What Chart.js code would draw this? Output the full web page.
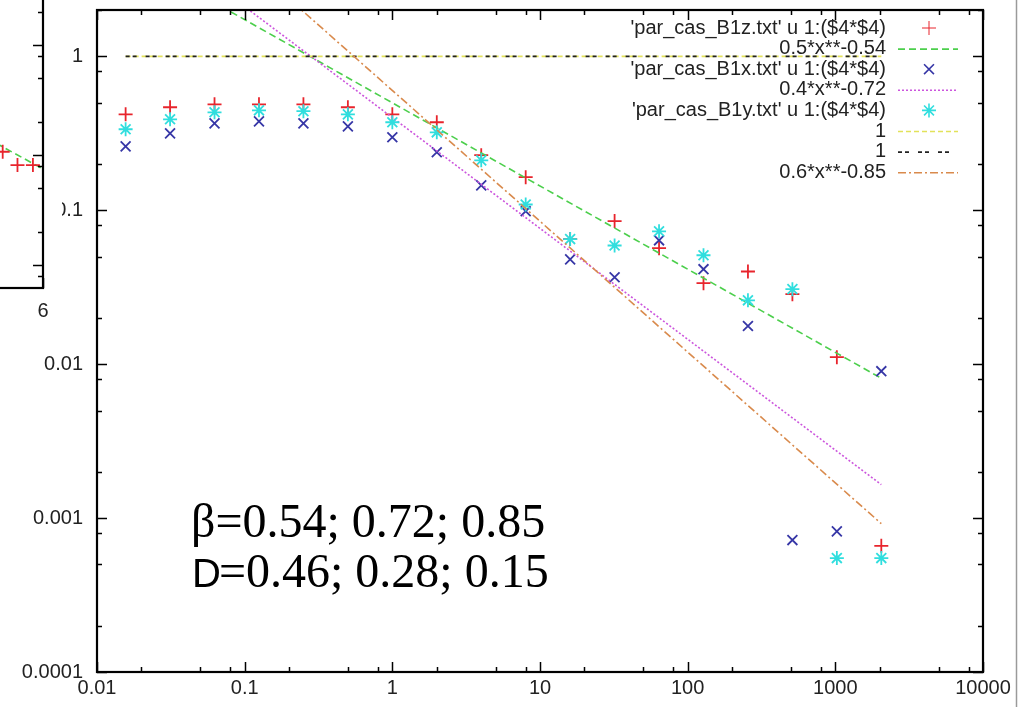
<!DOCTYPE html>
<html>
<head>
<meta charset="utf-8">
<script src="https://cdn.jsdelivr.net/npm/chart.js@4.4.1/dist/chart.umd.min.js"></script>
<style>
  html, body { margin: 0; padding: 0; background: #fff; overflow: hidden; }
  #wrap { position: relative; width: 1023px; height: 707px; overflow: hidden; }
  #main { position: absolute; left: 0; top: 0; }
  #side { position: absolute; left: -400px; top: -20px; }
</style>
</head>
<body>
<div id="wrap">
  <canvas id="main" width="1023" height="707" style="width:1023px;height:707px"></canvas>
  <canvas id="side" width="462" height="350" style="width:462px;height:350px"></canvas>
</div>
<script>
// sample positions (x) of the three data files
const xs = [1/64, 1/32, 1/16, 1/8, 1/4, 1/2, 1, 2, 4, 8, 16, 32, 64, 128, 256, 512, 1024, 2048];
const b1z = [0.42, 0.467, 0.488, 0.488, 0.488, 0.467, 0.42, 0.373, 0.228, 0.164, 0.065, 0.085, 0.0567, 0.0336, 0.040, 0.0285, 0.0111, 0.00066];
const b1x = [0.26, 0.316, 0.367, 0.378, 0.367, 0.351, 0.298, 0.238, 0.145, 0.0986, 0.048, 0.0367, 0.0638, 0.0414, 0.0177, 0.00072, 0.00082, 0.0090];
const b1y = [0.336, 0.39, 0.433, 0.446, 0.44, 0.42, 0.373, 0.321, 0.211, 0.109, 0.065, 0.059, 0.073, 0.051, 0.026, 0.0307, 0.00055, 0.00055];

// fitted power laws, end points of the plotted range
const fitX = [1/64, 2048];
const fit054 = [4.72, 0.0081];
const fit072 = [8.0, 0.00165];
const one = [1, 1];
const fit085 = [20.6, 0.00092];

const legendLabels = [
  "'par_cas_B1z.txt' u 1:($4*$4)",
  "0.5*x**-0.54",
  "'par_cas_B1x.txt' u 1:($4*$4)",
  "0.4*x**-0.72",
  "'par_cas_B1y.txt' u 1:($4*$4)",
  "1",
  "1",
  "0.6*x**-0.85"
];

const xTickValues = [0.01, 0.1, 1, 10, 100, 1000, 10000];
const xTickLabels = ['0.01', '0.1', '1', '10', '100', '1000', '10000'];
const yTickValues = [0.0001, 0.001, 0.01, 0.1, 1];
const yTickLabels = ['0.0001', '0.001', '0.01', '0.1', '1'];
const minorSteps = [2, 5, 8];

const annotLine1 = 'β=0.54; 0.72; 0.85';
const annotLine2a = 'D';
const annotLine2b = '=0.46; 0.28; 0.15';

// bit of the neighbouring plot that overlaps on the left
const sideX = [5.4, 5.62, 5.85];
const sideY = [0.107, 0.081, 0.081];
const sideFitX = [5.3, 6];
const sideFitY = [0.128, 0.0746];
const sideTickValues = [6];
const sideTickLabels = ['6'];
const sideYTicks = [0.01, 0.1, 1];

Chart.defaults.font.family = '"Liberation Sans", Arial, sans-serif';
Chart.defaults.color = '#222';

function pts(x, y) { return x.map((v, i) => ({ x: v, y: y[i] })); }

function withMinors(majors, min, max) {
  const out = [];
  majors.forEach(m => {
    out.push(m);
    minorSteps.forEach(s => out.push(m * s));
  });
  minorSteps.forEach(s => out.push(majors[0] / 10 * s));
  return out.filter(v => v >= min * 0.999 && v <= max * 1.001).sort((a, b) => a - b);
}

function labelFor(values, labels) {
  return v => {
    const i = values.findIndex(t => Math.abs(t - v) / t < 1e-6);
    return i >= 0 ? labels[i] : '';
  };
}

function noPad(s) {
  s.paddingTop = 0; s.paddingBottom = 0; s.paddingLeft = 0; s.paddingRight = 0;
}

const whiteBg = {
  id: 'whiteBg',
  beforeDraw(chart) {
    const ctx = chart.ctx;
    ctx.save();
    ctx.fillStyle = '#fff';
    ctx.fillRect(0, 0, chart.width, chart.height);
    ctx.restore();
  }
};

// gnuplot style frame with inward ticks on all sides
const frameTicks = {
  id: 'frameTicks',
  afterDatasetsDraw(chart, args, opts) {
    const { ctx, chartArea: a, scales: { x, y } } = chart;
    ctx.save();
    ctx.strokeStyle = '#000';
    ctx.lineWidth = 1.5;
    ctx.beginPath();
    x.ticks.forEach(t => {
      const px = Math.round(x.getPixelForValue(t.value)) + 0.5;
      const len = t.label ? 10 : 5;
      ctx.moveTo(px, a.bottom); ctx.lineTo(px, a.bottom - len);
      ctx.moveTo(px, a.top); ctx.lineTo(px, a.top + len);
    });
    y.ticks.forEach(t => {
      const py = Math.round(y.getPixelForValue(t.value)) + 0.5;
      const len = opts.majorY.some(m => Math.abs(m - t.value) / m < 1e-6) ? 10 : 5;
      ctx.moveTo(a.left, py); ctx.lineTo(a.left + len, py);
      ctx.moveTo(a.right, py); ctx.lineTo(a.right - len, py);
    });
    ctx.stroke();
    ctx.lineWidth = 2.2;
    ctx.strokeRect(a.left, a.top, a.right - a.left, a.bottom - a.top);
    ctx.restore();
  }
};

const keyBox = {
  id: 'keyBox',
  afterDatasetsDraw(chart) {
    const ctx = chart.ctx;
    ctx.save();
    ctx.font = '20px "Liberation Sans", Arial, sans-serif';
    ctx.textAlign = 'right';
    ctx.textBaseline = 'middle';
    chart.data.datasets.forEach((ds, i) => {
      const yy = 28 + i * 20.6;
      ctx.fillStyle = '#222';
      ctx.fillText(ds.label, 886, yy);
      ctx.strokeStyle = ds.borderColor;
      if (ds.showLine) {
        ctx.lineWidth = ds.borderWidth;
        ctx.setLineDash(ds.borderDash || []);
        ctx.beginPath();
        ctx.moveTo(898, yy + 0.5);
        ctx.lineTo(958, yy + 0.5);
        ctx.stroke();
        ctx.setLineDash([]);
      } else {
        ctx.fillStyle = ds.borderColor;
        Chart.helpers.drawPoint(ctx, {
          pointStyle: ds.pointStyle, radius: ds.pointRadius,
          borderWidth: ds.pointBorderWidth, rotation: 0
        }, 929, yy);
      }
    });
    ctx.restore();
  }
};

const extras = {
  id: 'extras',
  afterDraw(chart) {
    const ctx = chart.ctx;
    ctx.save();
    // edge of the next panel
    ctx.strokeStyle = '#9a9a9a';
    ctx.lineWidth = 1.5;
    ctx.beginPath();
    ctx.moveTo(1016.5, 0);
    ctx.lineTo(1016.5, 707);
    ctx.stroke();
    // beta / D note
    ctx.fillStyle = '#000';
    ctx.textBaseline = 'alphabetic';
    ctx.textAlign = 'left';
    ctx.font = '48px "Liberation Serif", "Times New Roman", serif';
    ctx.fillText(annotLine1, 191, 537);
    ctx.font = '40px "Liberation Sans", "DejaVu Sans", sans-serif';
    ctx.fillText(annotLine2a, 192, 587);
    const w = ctx.measureText(annotLine2a).width;
    ctx.font = '48px "Liberation Serif", "Times New Roman", serif';
    ctx.fillText(annotLine2b, 192 + w - 2, 587);
    ctx.restore();
  }
};

const lineDs = (i, y, color, dash) => ({
  label: legendLabels[i], data: pts(fitX, y), showLine: true, pointRadius: 0,
  borderColor: color, borderWidth: 1.6, borderDash: dash, clip: 0, order: 10 - i
});
const pointDs = (i, y, color, style) => ({
  label: legendLabels[i], data: pts(xs, y), showLine: false, pointStyle: style,
  pointRadius: 7, pointBorderWidth: 1.8, borderColor: color, backgroundColor: color,
  order: 10 - i
});

new Chart(document.getElementById('main'), {
  type: 'scatter',
  data: {
    datasets: [
      pointDs(0, b1z, '#e8242c', 'cross'),
      lineDs(1, fit054, '#4ccf4c', [7, 4]),
      pointDs(2, b1x, '#3636a6', 'crossRot'),
      lineDs(3, fit072, '#cc55dd', [2, 2]),
      pointDs(4, b1y, '#30dede', 'star'),
      lineDs(5, one, '#e2e25a', [5, 3]),
      lineDs(6, one, '#222222', [4, 3, 4, 9]),
      lineDs(7, fit085, '#d98a4c', [8, 3, 2, 3])
    ]
  },
  options: {
    responsive: false,
    animation: false,
    events: [],
    layout: { padding: { top: 10, right: 40, left: 0, bottom: 0 } },
    plugins: {
      legend: { display: false },
      tooltip: { enabled: false },
      frameTicks: { majorY: yTickValues }
    },
    scales: {
      x: {
        type: 'logarithmic', min: 0.01, max: 10000,
        grid: { display: false, drawTicks: false },
        border: { display: false },
        afterBuildTicks: s => { s.ticks = withMinors(xTickValues, 0.01, 10000).map(v => ({ value: v })); },
        afterFit: s => { s.height = 35; noPad(s); },
        ticks: { autoSkip: false, maxRotation: 0, padding: 4, font: { size: 20 }, callback: labelFor(xTickValues, xTickLabels) }
      },
      y: {
        type: 'logarithmic', min: 0.0001, max: 2,
        grid: { display: false, drawTicks: false },
        border: { display: false },
        afterBuildTicks: s => { s.ticks = withMinors(yTickValues, 0.0001, 2).map(v => ({ value: v })); },
        afterFit: s => { s.width = 97; noPad(s); },
        ticks: { autoSkip: false, padding: 14, font: { size: 20 }, callback: labelFor(yTickValues, yTickLabels) }
      }
    }
  },
  plugins: [whiteBg, frameTicks, keyBox, extras]
});

new Chart(document.getElementById('side'), {
  type: 'scatter',
  data: {
    datasets: [
      { data: pts(sideX, sideY), pointStyle: 'cross', pointRadius: 7, pointBorderWidth: 1.8,
        borderColor: '#e8242c', order: 1 },
      { data: pts(sideFitX, sideFitY), showLine: true, pointRadius: 0, borderColor: '#4ccf4c',
        borderWidth: 1.6, borderDash: [7, 4], order: 2 }
    ]
  },
  options: {
    responsive: false,
    animation: false,
    events: [],
    layout: { padding: { top: 10, right: 19, left: 40, bottom: 0 } },
    plugins: { legend: { display: false }, tooltip: { enabled: false }, frameTicks: { majorY: sideYTicks } },
    scales: {
      x: {
        type: 'linear', min: 0, max: 6,
        grid: { display: false, drawTicks: false },
        border: { display: false },
        afterBuildTicks: s => { s.ticks = sideTickValues.map(v => ({ value: v })); },
        afterFit: s => { s.height = 42; noPad(s); },
        ticks: { autoSkip: false, maxRotation: 0, padding: 11, font: { size: 20 }, callback: labelFor(sideTickValues, sideTickLabels) }
      },
      y: {
        type: 'logarithmic', min: 0.00618, max: 3.16, display: false,
        afterBuildTicks: s => { s.ticks = withMinors(sideYTicks, 0.00618, 3.16).map(v => ({ value: v })); }
      }
    }
  },
  plugins: [whiteBg, frameTicks]
});
</script>
</body>
</html>
